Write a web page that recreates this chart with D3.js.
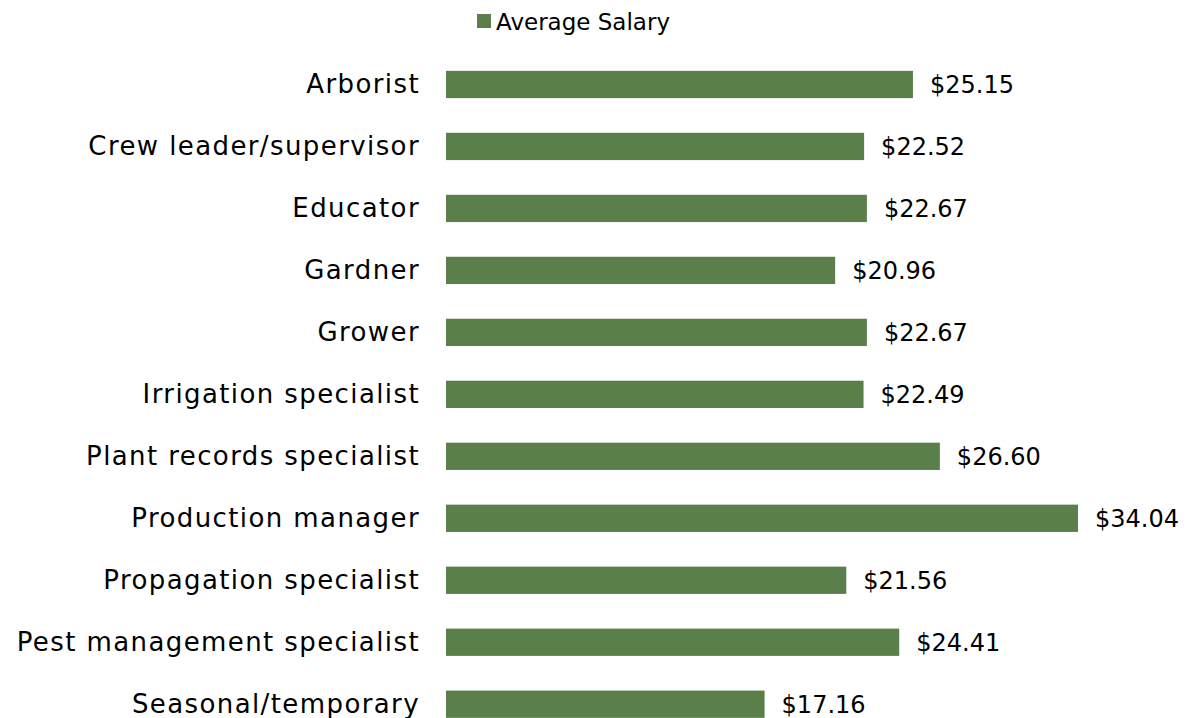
<!DOCTYPE html>
<html><head><meta charset="utf-8">
<script src="https://cdn.jsdelivr.net/npm/d3@7"></script>
<style>body{margin:0;background:#fff}</style>
</head><body>
<svg id="c" width="1192" height="718"></svg>
<script>
const categories = ["Arborist","Crew leader/supervisor","Educator","Gardner","Grower","Irrigation specialist","Plant records specialist","Production manager","Propagation specialist","Pest management specialist","Seasonal/temporary"];
const salaries = [25.15,22.52,22.67,20.96,22.67,22.49,26.60,34.04,21.56,24.41,17.16];
const seriesName = "Average Salary";

const svg = d3.select("#c");
const font = "'DejaVu Sans', sans-serif";
const color = "#5a7f4b";
const x = d3.scaleLinear().domain([0, 34.04]).range([446, 1078]);
const y = d3.scaleBand().domain(categories).range([53.5, 735.2]).paddingInner(0.56).paddingOuter(0.28);

svg.selectAll("rect.bar").data(categories).join("rect").attr("class","bar")
  .attr("x", x(0)).attr("y", d => y(d)).attr("height", y.bandwidth())
  .attr("width", (d,i) => x(salaries[i]) - x(0)).attr("fill", color);

const yAxis = svg.append("g").attr("transform", `translate(${x(0)},0)`)
  .call(d3.axisLeft(y).tickSize(0).tickPadding(26));
yAxis.select(".domain").remove();
yAxis.selectAll("text").attr("font-family", font).attr("font-size", 26)
  .attr("letter-spacing", 1.4).attr("fill", "#000");

svg.selectAll("text.val").data(categories).join("text").attr("class","val")
  .attr("x", (d,i) => x(salaries[i]) + 17).attr("y", d => y(d) + y.bandwidth()/2)
  .attr("dy", "0.36em").attr("font-family", font).attr("font-size", 24).attr("fill", "#000")
  .text((d,i) => "$" + salaries[i].toFixed(2));

const lg = svg.append("g");
lg.append("rect").attr("x", 477).attr("y", 14).attr("width", 14).attr("height", 14).attr("fill", color);
lg.append("text").attr("x", 496).attr("y", 22).attr("dy","0.35em").attr("font-family", font)
  .attr("font-size", 23).attr("fill","#000").text(seriesName);
</script>
</body></html>
